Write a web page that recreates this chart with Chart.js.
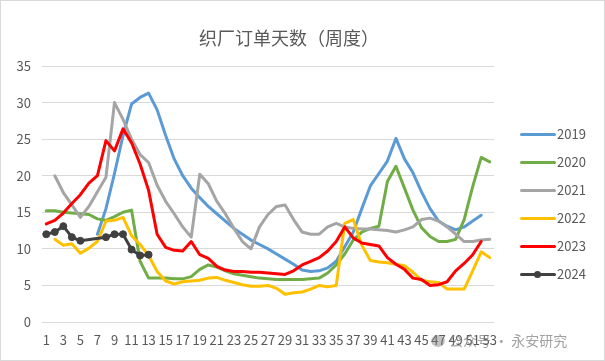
<!DOCTYPE html>
<html>
<head>
<meta charset="utf-8">
<script src="https://cdn.jsdelivr.net/npm/chart.js@4/dist/chart.umd.min.js"></script>
<style>
  body { margin: 0; background: #fff; }
  #wrap { position: relative; width: 605px; height: 361px; box-sizing: border-box; border: 1px solid #d9d9d9; overflow: hidden; }
  #chart { position: absolute; left: 0; top: 0; }
  #title { position: absolute; left: 188px; width: 200px; top: 25px; text-align: center; font: 18px "Noto Sans CJK SC", sans-serif; color: #595959; line-height: 22px; white-space: nowrap; }
  .legend-item { position: absolute; left: 519px; height: 16px; font: 13px "Noto Sans CJK SC", "Liberation Sans", sans-serif; color: #595959; }
  .legend-item .swatch { position: absolute; left: 0; top: 7px; width: 36px; height: 3px; border-radius: 2px; }
  .legend-item .dot { position: absolute; left: 14px; top: 5px; width: 7px; height: 7px; border-radius: 50%; }
  .legend-item span.txt { position: absolute; left: 37px; top: -2px; }
  #mark { position: absolute; left: 430px; top: 329px; font: 14px "Noto Sans CJK SC", sans-serif; color: rgba(130,130,130,0.75); white-space: nowrap; }
  #mark i { display: inline-block; width: 14px; height: 12px; border-radius: 50%; background: rgba(120,120,120,0.45); vertical-align: -1px; margin-right: 4px; }
</style>
</head>
<body>
<div id="wrap">
  <canvas id="chart" width="605" height="361"></canvas>
  <div id="title">织厂订单天数（周度）</div>
  <div id="legend"></div>
  <div id="mark"><i></i>公众号 · 永安研究</div>
</div>
<script>
// Week numbers 1..53
const weeks = []
for (let w = 1; w <= 53; w++) weeks.push(String(w))

const yTicks = [0, 5, 10, 15, 20, 25, 30, 35]

// Series values by week (null = no data)
const s2019 = [null, null, null, null, null, null, 12, 15.5, 20.3, 25.5, 29.8, 30.7, 31.3, 29, 25.5, 22.3, 20, 18.3, 17, 15.8,
  14.8, 13.8, 12.8, 12, 11.2, 10.6, 10, 9.3, 8.6, 7.9, 7.1, 6.9, 7.0, 7.4, 8.3, 10.3, 12.3, 15.5, 18.6, 20.3,
  22, 25.1, 22.3, 20.4, 17.8, 15.5, 13.8, 13.1, 12.6, 13, 13.8, 14.6, null]
const s2020 = [15.2, 15.2, 15.0, 14.9, 14.8, 14.7, 14.1, 13.9, 14.4, 15.0, 15.3, 8.3, 6.0, 6.0, 6.0, 5.9, 5.9, 6.2, 7.2, 7.8,
  7.5, 7.0, 6.6, 6.4, 6.2, 6.0, 5.9, 5.8, 5.8, 5.8, 5.8, 5.9, 6.0, 6.7, 7.8, 9.3, 11.2, 12.3, 12.8, 13.1,
  19.2, 21.3, 18.3, 15.3, 12.9, 11.7, 11.0, 11.0, 11.3, 14, 18.5, 22.5, 21.9]
const s2021 = [null, 20, 17.7, 16, 14.3, 15.8, 17.8, 19.8, 30, 27.7, 25, 22.9, 21.8, 18.7, 16.5, 14.8, 13, 11.6, 20.2, 18.9,
  16.5, 14.8, 12.8, 11, 10, 13, 14.7, 15.8, 16, 14, 12.3, 12, 12, 13, 13.5, 13, 12.8, 12.7, 12.7, 12.6,
  12.5, 12.3, 12.6, 13, 14, 14.2, 13.8, 13, 12, 11, 11, 11.2, 11.3]
const s2022 = [null, 11.3, 10.5, 10.7, 9.4, 10.1, 11, 13.8, 13.9, 14.3, 11.8, 10.6, 9.1, 6.9, 5.6, 5.2, 5.5, 5.6, 5.7, 6.0,
  6.1, 5.7, 5.4, 5.1, 4.9, 4.9, 5.0, 4.6, 3.8, 4.0, 4.1, 4.5, 5.0, 4.8, 5.0, 13.5, 14.0, 10.5, 8.4, 8.2,
  8.1, 7.9, 7.7, 6.8, 5.7, 5.5, 5.4, 4.5, 4.5, 4.5, 7.0, 9.6, 8.8]
const s2023 = [13.4, 13.9, 14.9, 16.2, 17.4, 19, 20, 24.8, 23.4, 26.4, 24.5, 21.6, 18, 12, 10.2, 9.8, 9.7, 11, 9.2, 8.7,
  7.6, 7.1, 6.9, 6.9, 6.8, 6.8, 6.7, 6.6, 6.5, 7.0, 7.8, 8.3, 8.8, 9.7, 11, 13, 11.5, 10.8, 10.6, 10.4,
  8.8, 7.9, 7.2, 6.0, 5.8, 5.0, 5.1, 5.5, 7.0, 8.0, 9.2, 11, null]
const s2024 = [12, 12.3, 13.1, 11.6, 11.1, null, null, 11.6, 12, 12, 9.9, 9.1, 9.2]

const seriesNames = ["2019", "2020", "2021", "2022", "2023", "2024"]
const seriesColors = ["#5b9bd5", "#70ad47", "#a5a5a5", "#ffc000", "#ff0000", "#404040"]

// Build datasets
function makeDataset(i, values) {
  const isLast = i === seriesNames.length - 1
  return {
    label: seriesNames[i],
    data: values,
    borderColor: seriesColors[i],
    backgroundColor: seriesColors[i],
    borderWidth: 3,
    tension: 0,
    pointRadius: isLast ? 3.5 : 0,
    pointBorderWidth: 1,
    pointHoverRadius: isLast ? 3.5 : 0,
    spanGaps: isLast,
    borderJoinStyle: "round",
    borderCapStyle: "round",
    order: seriesNames.length - i,
  }
}

const datasets = [s2019, s2020, s2021, s2022, s2023, s2024].map((v, i) => makeDataset(i, v))

// HTML legend
const legendBox = document.getElementById("legend")
seriesNames.forEach((name, i) => {
  const item = document.createElement("div")
  item.className = "legend-item"
  item.style.top = 125 + i * 28 + "px"
  let html = `<div class="swatch" style="background:${seriesColors[i]}"></div>`
  if (i === seriesNames.length - 1) html += `<div class="dot" style="background:${seriesColors[i]}"></div>`
  html += `<span class="txt">${name}</span>`
  item.innerHTML = html
  legendBox.appendChild(item)
})

const tickFont = { family: "'Noto Sans CJK SC', 'Liberation Sans', sans-serif", size: 13 }

new Chart(document.getElementById("chart"), {
  type: "line",
  data: { labels: weeks, datasets: datasets },
  options: {
    responsive: false,
    animation: false,
    devicePixelRatio: 1,
    layout: { padding: { top: 65, right: 112, bottom: 0, left: 0 } },
    plugins: {
      legend: { display: false },
      title: { display: false },
      tooltip: { enabled: false },
    },
    scales: {
      x: {
        type: "category",
        offset: true,
        grid: { display: false, drawTicks: false },
        border: { display: false },
        ticks: {
          autoSkip: false,
          maxRotation: 0,
          minRotation: 0,
          padding: 10,
          color: "#595959",
          font: tickFont,
          callback: (val, idx) => (idx % 2 === 0 ? weeks[idx] : ""),
        },
        afterFit: (scale) => { scale.height = 40 },
      },
      y: {
        min: 0,
        max: 35,
        afterBuildTicks: (scale) => { scale.ticks = yTicks.map((v) => ({ value: v })) },
        grid: { color: "#d9d9d9", lineWidth: 1, drawTicks: false },
        border: { display: false },
        ticks: { padding: 11, color: "#595959", font: tickFont },
        afterFit: (scale) => { scale.width = 41 },
      },
    },
  },
})
</script>
</body>
</html>
